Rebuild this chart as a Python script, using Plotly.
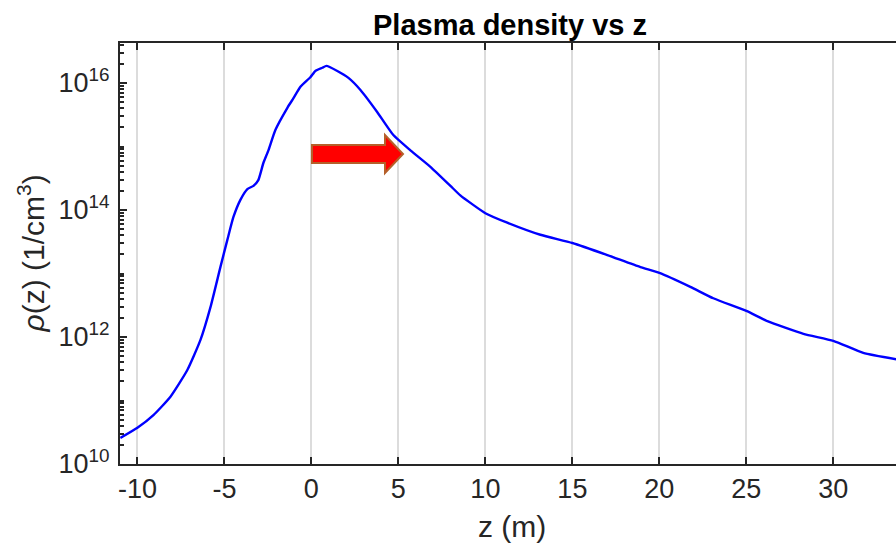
import plotly.graph_objects as go

# ---- data ----
z_m = [-10.98, -10.0, -9.08, -8.10, -7.13, -6.38, -5.80, -5.23, -4.83, -4.48, -4.08, -3.68,
       -3.33, -3.05, -2.76, -2.47, -2.07, -1.38, -1.03, -0.63, -0.06, 0.23, 0.63, 0.86,
       1.49, 2.13, 2.82, 3.79, 4.71, 5.69, 6.84, 7.99, 8.56, 10.0, 11.26, 13.16, 15.0,
       17.01, 18.91, 20.0, 21.78, 23.10, 25.0, 26.21, 28.28, 30.0, 31.72, 33.62]
log_rho = [10.41, 10.57, 10.77, 11.06, 11.48, 11.95, 12.47, 13.10, 13.53, 13.89, 14.16, 14.33,
           14.38, 14.47, 14.74, 14.94, 15.26, 15.61, 15.76, 15.94, 16.09, 16.19, 16.24, 16.27,
           16.19, 16.08, 15.89, 15.54, 15.18, 14.94, 14.68, 14.38, 14.23, 13.95, 13.80, 13.61, 13.48,
           13.29, 13.10, 13.01, 12.79, 12.61, 12.41, 12.25, 12.05, 11.94, 11.75, 11.65]
rho = [10 ** v for v in log_rho]

x_ticks = [-10, -5, 0, 5, 10, 15, 20, 25, 30]
x_ticktext = ["-10", "-5", "0", "5", "10", "15", "20", "25", "30"]
y_ticks = [1e10, 1e12, 1e14, 1e16]
y_ticktext = ["10<sup>10</sup>", "10<sup>12</sup>", "10<sup>14</sup>", "10<sup>16</sup>"]
y_minor = [k * 10 ** n for n in range(10, 17) for k in range(1, 10)]

title_text = "<b>Plasma density vs z</b>"
xlabel = "z (m)"
ylabel = "<i>ρ</i>(z) (1/cm<sup>3</sup>)"

AX = "#262626"
FONT = "Liberation Sans, Arial, sans-serif"

fig = go.Figure()
fig.add_trace(go.Scatter(x=z_m, y=rho, mode="lines",
                         line=dict(color="#0000FF", width=2.4, shape="spline", smoothing=0.5),
                         showlegend=False, hoverinfo="skip"))

fig.update_layout(
    width=896, height=551,
    margin=dict(l=120, r=0, t=43, b=87),
    paper_bgcolor="white", plot_bgcolor="white",
    font=dict(family=FONT, color=AX, size=27),
    showlegend=False,
)

fig.update_xaxes(
    range=[-11, 33.6], tickvals=x_ticks, ticktext=x_ticktext,
    ticks="inside", ticklen=7, tickwidth=2, tickcolor=AX,
    showline=True, linecolor=AX, linewidth=2, mirror="ticks",
    showgrid=True, gridcolor="#DCDCDC", gridwidth=2,
    zeroline=False, tickfont=dict(size=27, color=AX, family=FONT),
)
fig.update_yaxes(
    type="log", range=[10, 16.63], tickvals=y_ticks, ticktext=y_ticktext,
    ticks="inside", ticklen=7, tickwidth=2, tickcolor=AX,
    showline=True, linecolor=AX, linewidth=2, mirror=False,
    showgrid=False, zeroline=False, tickfont=dict(size=27, color=AX, family=FONT),
    ticklabelstandoff=3,
    minor=dict(tickvals=y_minor, ticks="inside", ticklen=4, tickwidth=1.5,
               tickcolor=AX, showgrid=False),
)

# title and axis labels
fig.add_annotation(text=title_text, xref="paper", yref="paper", x=0.503, y=1.0,
                   yanchor="bottom", xanchor="center", showarrow=False, yshift=0,
                   font=dict(size=29, color="black", family=FONT))
fig.add_annotation(text=xlabel, xref="paper", yref="paper", x=0.505, y=0,
                   yanchor="top", xanchor="center", showarrow=False, yshift=-44,
                   font=dict(size=30, color=AX, family=FONT))
fig.add_annotation(text=ylabel, xref="paper", yref="paper", x=-0.1147, y=0.5,
                   textangle=-90, xanchor="center", yanchor="middle", showarrow=False,
                   font=dict(size=30, color=AX, family=FONT))

# block arrow annotation (paper coordinates)
def px(x):
    return (x - 120) / 776.0

def py(y):
    return (464 - y) / 421.0

pts = [(312, 145), (385, 145), (385, 135), (403, 154), (385, 173), (385, 163), (312, 163)]
path = "M " + " L ".join(f"{px(a):.4f},{py(b):.4f}" for a, b in pts) + " Z"
fig.add_shape(type="path", path=path, xref="paper", yref="paper",
              fillcolor="#FF0000", line=dict(color="#B5602A", width=2))

fig.write_html("out.html")
